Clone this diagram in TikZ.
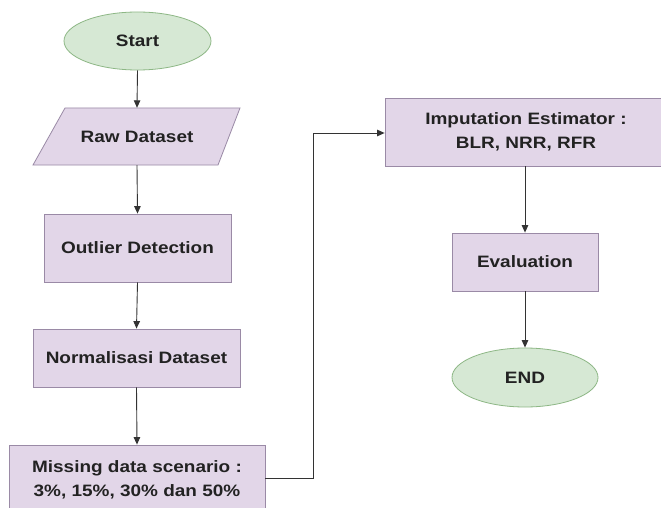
\documentclass[tikz,border=0pt]{standalone}
\usepackage{fontspec}
\setmainfont[FakeStretch=1.15]{Liberation Sans}
\usetikzlibrary{shapes.geometric,arrows.meta}
\definecolor{pfill}{HTML}{E2D6E8}
\definecolor{pdraw}{HTML}{9A8AA6}
\definecolor{gfill}{HTML}{D6E8D4}
\definecolor{gdraw}{HTML}{8DB785}
\definecolor{txt}{HTML}{222222}
\definecolor{lin}{HTML}{333333}
\begin{document}
\begin{tikzpicture}[x=1pt,y=-1pt,
  every node/.style={font=\fontsize{16.5}{24}\selectfont\bfseries, text=txt, align=center, inner sep=0pt},
  proc/.style={draw=pdraw, fill=pfill, line width=0.8pt, rectangle},
  term/.style={draw=gdraw, fill=gfill, line width=0.8pt, ellipse},
  conn/.style={draw=lin, line width=0.9pt, -{Triangle[length=7.5pt,width=6.5pt]}}]
\useasboundingbox (0,0) rectangle (661,508);
\fill[white] (0,0) rectangle (661,508);
\begin{scope}
\clip (0,0) rectangle (661,508);
\node[term, minimum width=147pt, minimum height=58pt] (start) at (137.5,41) {Start};
\draw[draw=pdraw, fill=pfill, line width=0.8pt] (65,108) -- (240,108) -- (218,165) -- (33,165) -- cycle;
\node[minimum width=150pt, minimum height=57pt] (raw) at (137,136.5) {Raw Dataset};
\node[proc, minimum width=187pt, minimum height=68pt] (out) at (137.5,248) {Outlier Detection};
\node[proc, minimum width=207pt, minimum height=58pt] (norm) at (136.5,358) {Normalisasi Dataset};
\node[proc, minimum width=256pt, minimum height=70pt] (miss) at (137,480) {Missing data scenario :\\3\%, 15\%, 30\% dan 50\%};
\node[proc, minimum width=282pt, minimum height=68pt] (imp) at (526,132) {Imputation Estimator :\\BLR, NRR, RFR};
\node[proc, minimum width=146pt, minimum height=58pt] (eval) at (525,262) {Evaluation};
\node[term, minimum width=146pt, minimum height=59pt] (end) at (525,377.5) {END};
\draw[conn] (start.south) -- (raw.north);
\draw[conn] (raw.south) -- (out.north);
\draw[conn] (out.south) -- (norm.north);
\draw[conn] (norm.south) -- (miss.north);
\draw[conn] (miss.east |- 0,478) -| (313,133) -- (imp.west |- 0,133);
\draw[conn] (imp.south -| eval.north) -- (eval.north);
\draw[conn] (eval.south) -- (end.north);
\end{scope}
\end{tikzpicture}
\end{document}
